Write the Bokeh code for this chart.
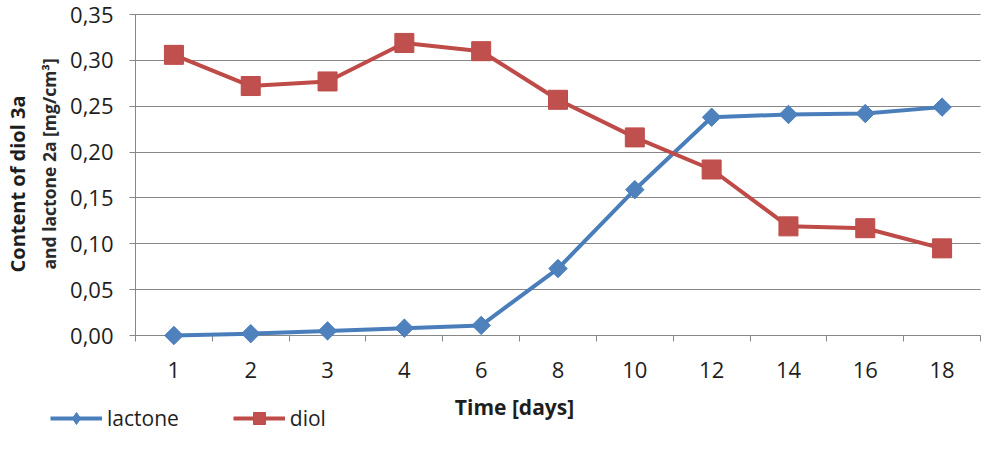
import math
from bokeh.plotting import figure
from bokeh.models import (Range1d, FixedTicker, CustomJSTickFormatter, Legend, LegendItem,
                          Label, LinearAxis, ColumnDataSource)
from bokeh.embed import file_html
from bokeh.resources import INLINE

days = ["1", "2", "3", "4", "6", "8", "10", "12", "14", "16", "18"]
lactone = [0.000, 0.002, 0.005, 0.008, 0.011, 0.073, 0.159, 0.238, 0.241, 0.242, 0.249]
diol = [0.306, 0.272, 0.277, 0.319, 0.310, 0.257, 0.216, 0.181, 0.119, 0.117, 0.095]
y_ticks = [0.0, 0.05, 0.10, 0.15, 0.20, 0.25, 0.30, 0.35]
y_max = 0.35

FONT = "Open Sans"
BLUE_LINE = "#4A7EBB"
BLUE_FILL = "#4F81BD"
RED_LINE = "#BE4B48"
RED_FILL = "#C0504D"
GRID = "#878787"
TXT = "#1e1e1e"

# canvas / frame layout (pixels)
W, H = 984, 433
PX_LEFT, PX_RIGHT = 135, 980     # x data 0 and x data n
PX_TOP, PX_BOTTOM = 14, 335      # y data y_max and y data 0

n = len(days)
sx = (PX_RIGHT - PX_LEFT) / n
sy = (PX_BOTTOM - PX_TOP) / y_max
x_range = Range1d(-PX_LEFT / sx, (W - PX_LEFT) / sx)
y_range = Range1d(-(H - PX_BOTTOM) / sy, y_max + PX_TOP / sy)

xs = [i + 0.5 for i in range(n)]
src = ColumnDataSource(dict(x=xs, lactone=lactone, diol=diol))

p = figure(width=W, height=H, output_backend="svg", toolbar_location=None,
           x_range=x_range, y_range=y_range,
           x_axis_location=None, y_axis_location=None,
           min_border=0, min_border_left=0, min_border_right=0,
           min_border_top=0, min_border_bottom=0)
p.outline_line_color = None
p.background_fill_color = "white"
p.border_fill_color = "white"
p.xgrid.visible = False
p.ygrid.visible = False

# y axis (its inward ticks act as the horizontal grid lines)
ya = LinearAxis(fixed_location=0, bounds=(0, y_max), level="underlay",
                ticker=FixedTicker(ticks=y_ticks, minor_ticks=[]),
                formatter=CustomJSTickFormatter(code="return tick.toFixed(2).replace('.', ',');"),
                axis_line_color=GRID, major_tick_line_color=GRID,
                major_tick_out=6, major_tick_in=PX_RIGHT - PX_LEFT,
                minor_tick_line_color=None,
                major_label_text_font=FONT, major_label_text_font_size="22px",
                major_label_text_color=TXT, major_label_standoff=16)
p.add_layout(ya, "left")

# x axis: labels at category centres, tick marks at category boundaries
xa = LinearAxis(fixed_location=0, bounds=(0, n), level="underlay",
                ticker=FixedTicker(ticks=xs, minor_ticks=list(range(n + 1))),
                major_label_overrides={x: d for x, d in zip(xs, days)},
                axis_line_color=GRID, major_tick_line_color=None,
                major_tick_out=0, major_tick_in=0,
                minor_tick_line_color=GRID, minor_tick_out=6, minor_tick_in=0,
                major_label_text_font=FONT, major_label_text_font_size="22px",
                major_label_text_color=TXT, major_label_standoff=20)
p.add_layout(xa, "below")

# series
l1 = p.line("x", "lactone", source=src, line_color=BLUE_LINE, line_width=4)
m1_legend = p.scatter("x", "lactone", source=src, marker="diamond", size=17,
                      fill_color=BLUE_FILL, line_color=BLUE_LINE, line_width=1)
m1 = p.scatter("x", "lactone", source=src, marker="square", angle=math.pi / 4, size=13,
               fill_color=BLUE_FILL, line_color=BLUE_LINE, line_width=1)
l2 = p.line("x", "diol", source=src, line_color=RED_LINE, line_width=4)
m2 = p.scatter("x", "diol", source=src, marker="square", size=19,
               fill_color=RED_FILL, line_color=RED_LINE, line_width=1)

# axis titles (screen units: y measured up from the bottom of the canvas)
p.add_layout(Label(x=17, y=H - 272, x_units="screen", y_units="screen", angle=math.pi / 2,
                   text="Content of diol 3a", text_font=FONT, text_font_size="20px",
                   text_font_style="bold", text_color=TXT,
                   text_align="left", text_baseline="middle"))
p.add_layout(Label(x=48, y=H - 269, x_units="screen", y_units="screen", angle=math.pi / 2,
                   text="and lactone 2a [mg/cm³]", text_font=FONT, text_font_size="17.5px",
                   text_font_style="bold", text_color="#2a2a2a",
                   text_align="left", text_baseline="middle"))
p.add_layout(Label(x=514, y=H - 406, x_units="screen", y_units="screen",
                   text="Time [days]", text_font=FONT, text_font_size="21px",
                   text_font_style="bold", text_color=TXT,
                   text_align="center", text_baseline="middle"))

legend = Legend(items=[LegendItem(label="lactone", renderers=[l1, m1_legend]),
                       LegendItem(label="diol", renderers=[l2, m2])],
                orientation="horizontal", location=(50, 0),
                padding=0, margin=0, spacing=54, glyph_width=52, glyph_height=30,
                label_standoff=5, label_text_font=FONT, label_text_font_size="21px",
                label_text_color=TXT, label_height=16,
                border_line_color=None, background_fill_alpha=0)
p.add_layout(legend, "center")

open("out.html", "w").write(file_html(p, INLINE))
